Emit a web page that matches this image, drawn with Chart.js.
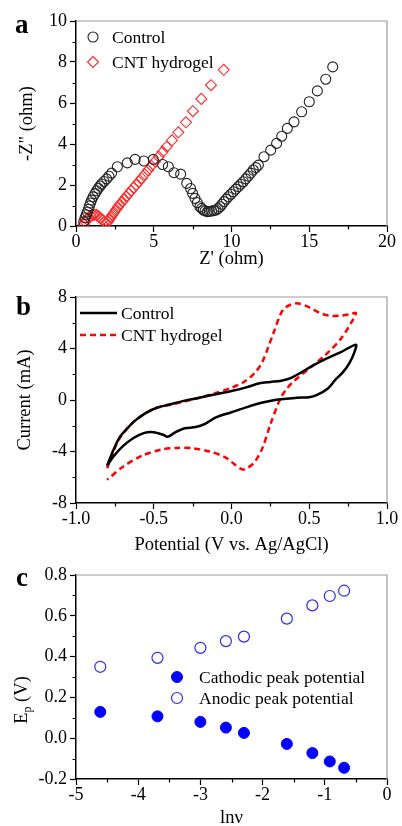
<!DOCTYPE html>
<html>
<head>
<meta charset="utf-8">
<script src="https://cdn.jsdelivr.net/npm/chart.js@4.4.1/dist/chart.umd.min.js"></script>
<style>
  body { margin: 0; background: #fff; }
  #wrap { position: relative; width: 402px; height: 826px; }
  canvas { position: absolute; left: 0; }
</style>
</head>
<body>
<div id="wrap">
  <canvas id="panelA" width="402" height="280" style="top:0"></canvas>
  <canvas id="panelB" width="402" height="280" style="top:280px"></canvas>
  <canvas id="panelC" width="402" height="266" style="top:560px"></canvas>
</div>
<script>
// ---- panel a: Nyquist plot ----
const eisControlX = [0.5, 0.58, 0.66, 0.73, 0.8, 0.86, 0.93, 1.0, 1.1, 1.22, 1.33, 1.44, 1.55, 1.65, 1.8, 1.97, 2.12, 2.29, 2.66, 3.3, 3.8, 4.37, 4.97, 5.57, 5.94, 6.3, 6.73, 7.12, 7.37, 7.5, 7.65, 7.8, 7.97, 8.08, 8.19, 8.3, 8.45, 8.58, 8.72, 8.86, 9.0, 9.13, 9.26, 9.39, 9.52, 9.66, 9.8, 9.96, 10.12, 10.28, 10.44, 10.6, 10.76, 10.92, 11.08, 11.24, 11.4, 11.57, 11.73, 12.09, 12.52, 12.9, 13.23, 13.59, 14.02, 14.51, 15.0, 15.52, 16.06, 16.51];
const eisControlY = [0.21, 0.4, 0.55, 0.68, 0.82, 0.98, 1.12, 1.26, 1.42, 1.58, 1.72, 1.84, 1.95, 2.05, 2.17, 2.3, 2.43, 2.58, 2.89, 3.08, 3.25, 3.17, 3.25, 3.0, 2.89, 2.6, 2.53, 2.08, 1.83, 1.59, 1.35, 1.14, 0.94, 0.86, 0.78, 0.74, 0.7, 0.71, 0.73, 0.75, 0.78, 0.85, 0.94, 1.06, 1.19, 1.31, 1.43, 1.55, 1.67, 1.8, 1.92, 2.04, 2.16, 2.3, 2.44, 2.58, 2.73, 2.85, 2.97, 3.38, 3.7, 4.03, 4.38, 4.76, 5.08, 5.57, 6.06, 6.59, 7.16, 7.76];
const eisCntX = [0.5, 0.6, 0.7, 0.82, 0.95, 1.08, 1.2, 1.33, 1.46, 1.59, 1.71, 1.83, 1.94, 2.04, 2.13, 2.23, 2.34, 2.45, 2.57, 2.69, 2.82, 2.96, 3.1, 3.24, 3.39, 3.54, 3.7, 3.87, 4.04, 4.22, 4.42, 4.63, 4.85, 5.08, 5.32, 5.57, 5.83, 6.17, 6.58, 7.07, 7.52, 8.06, 8.68, 9.5];
const eisCntY = [0.08, 0.2, 0.32, 0.42, 0.49, 0.53, 0.55, 0.53, 0.47, 0.38, 0.28, 0.2, 0.15, 0.2, 0.3, 0.42, 0.54, 0.66, 0.79, 0.92, 1.05, 1.18, 1.31, 1.44, 1.58, 1.72, 1.86, 2.01, 2.16, 2.33, 2.52, 2.72, 2.93, 3.15, 3.38, 3.62, 3.87, 4.18, 4.57, 5.06, 5.6, 6.2, 6.87, 7.62];
const eisXTicks = [0, 5, 10, 15, 20];
const eisXMinor = [2.5, 7.5, 12.5, 17.5];
const eisYTicks = [0, 2, 4, 6, 8, 10];
const eisYMinor = [1, 3, 5, 7, 9];

// ---- panel b: cyclic voltammetry ----
const cvControlE = [-0.8, -0.76, -0.72, -0.67, -0.62, -0.55, -0.48, -0.4, -0.3, -0.2, -0.1, 0, 0.1, 0.18, 0.25, 0.32, 0.38, 0.45, 0.52, 0.6, 0.7, 0.8,
  0.79, 0.76, 0.72, 0.67, 0.62, 0.55, 0.5, 0.42, 0.35, 0.28, 0.2, 0.1, 0, -0.1, -0.17, -0.23, -0.3, -0.36, -0.41, -0.44, -0.5, -0.56, -0.63, -0.7, -0.76, -0.8];
const cvControlI = [-5.1, -3.9, -2.9, -2.2, -1.6, -1.0, -0.6, -0.35, -0.05, 0.2, 0.45, 0.7, 1.0, 1.3, 1.4, 1.5, 1.7, 2.15, 2.65, 3.15, 3.7, 4.3,
  3.7, 2.9, 2.2, 1.6, 0.9, 0.4, 0.22, 0.18, 0.1, 0, -0.2, -0.55, -0.95, -1.35, -1.85, -2.1, -2.2, -2.5, -2.85, -2.7, -2.5, -2.55, -2.95, -3.6, -4.4, -5.1];
const cvCntE = [-0.8, -0.76, -0.72, -0.67, -0.62, -0.55, -0.48, -0.4, -0.3, -0.2, -0.1, 0, 0.08, 0.15, 0.2, 0.27, 0.33, 0.38, 0.43, 0.5, 0.57, 0.63, 0.7, 0.76, 0.8,
  0.77, 0.7, 0.6, 0.5, 0.4, 0.35, 0.31, 0.25, 0.2, 0.15, 0.1, 0.07, 0.02, -0.04, -0.14, -0.25, -0.35, -0.45, -0.57, -0.7, -0.8];
const cvCntI = [-5.3, -4.0, -3.0, -2.2, -1.6, -1.0, -0.6, -0.4, -0.1, 0.2, 0.55, 0.95, 1.4, 2.1, 3.0, 5.2, 7.0, 7.4, 7.5, 7.2, 6.75, 6.55, 6.55, 6.65, 6.75,
  6.0, 4.7, 3.45, 2.45, 1.45, 0.8, 0, -1.9, -3.7, -4.8, -5.3, -5.4, -5.0, -4.45, -4.0, -3.75, -3.72, -3.85, -4.3, -5.2, -6.2];
const cvXTicks = [-1, -0.5, 0, 0.5, 1];
const cvXMinor = [-0.75, -0.25, 0.25, 0.75];
const cvYTicks = [-8, -4, 0, 4, 8];
const cvYMinor = [-6, -2, 2, 6];

// ---- panel c: peak potential vs ln(scan rate) ----
const lnRate = [-4.61, -3.69, -3.0, -2.59, -2.3, -1.61, -1.2, -0.92, -0.69];
const cathodicEp = [0.129, 0.107, 0.08, 0.052, 0.026, -0.028, -0.073, -0.114, -0.145];
const anodicEp = [0.35, 0.394, 0.443, 0.476, 0.498, 0.586, 0.651, 0.697, 0.723];
const epXTicks = [-5, -4, -3, -2, -1, 0];
const epXMinor = [-4.5, -3.5, -2.5, -1.5, -0.5];
const epYTicks = [-0.2, 0, 0.2, 0.4, 0.6, 0.8];
const epYMinor = [-0.1, 0.1, 0.3, 0.5, 0.7];

const SERIF = "'Liberation Serif', 'Times New Roman', serif";
Chart.defaults.font.family = SERIF;
Chart.defaults.color = '#000';

function pts(xs, ys) {
  return xs.map((x, i) => ({ x: x, y: ys[i] }));
}

// gray top/right frame, minor ticks, panel letter, in-plot legend
const decorPlugin = {
  id: 'decor',
  afterDraw(chart, args, o) {
    const ctx = chart.ctx;
    const a = chart.chartArea;
    const sx = chart.scales.x, sy = chart.scales.y;
    ctx.save();
    ctx.strokeStyle = '#9c9c9c';
    ctx.lineWidth = 1.2;
    ctx.beginPath();
    ctx.moveTo(a.left, a.top);
    ctx.lineTo(a.right, a.top);
    ctx.lineTo(a.right, a.bottom);
    ctx.stroke();

    ctx.strokeStyle = '#000';
    ctx.lineWidth = 1.2;
    ctx.beginPath();
    o.xMinor.forEach(v => {
      const p = Math.round(sx.getPixelForValue(v)) + 0.5;
      ctx.moveTo(p, a.bottom);
      ctx.lineTo(p, a.bottom + 3.5);
    });
    o.yMinor.forEach(v => {
      const p = Math.round(sy.getPixelForValue(v)) + 0.5;
      ctx.moveTo(a.left, p);
      ctx.lineTo(a.left - 3.5, p);
    });
    ctx.stroke();

    ctx.fillStyle = '#000';
    ctx.font = 'bold 27px ' + SERIF;
    ctx.textBaseline = 'alphabetic';
    ctx.fillText(o.letter, o.letterX, o.letterY);

    // legend
    ctx.font = '17.5px ' + SERIF;
    ctx.textBaseline = 'middle';
    chart.data.datasets.forEach((ds, i) => {
      const y = o.legY + i * o.legGap;
      if (o.legKind === 'line') {
        ctx.strokeStyle = ds.borderColor;
        ctx.lineWidth = ds.borderWidth;
        ctx.setLineDash(ds.borderDash || []);
        ctx.beginPath();
        ctx.moveTo(o.legX, y);
        ctx.lineTo(o.legX + 37, y);
        ctx.stroke();
        ctx.setLineDash([]);
      } else {
        const r = ds.pointRadius;
        ctx.strokeStyle = ds.pointBorderColor;
        ctx.fillStyle = ds.pointBackgroundColor;
        ctx.lineWidth = ds.pointBorderWidth;
        ctx.beginPath();
        if (ds.pointStyle === 'rectRot') {
          ctx.moveTo(o.legX, y - r);
          ctx.lineTo(o.legX + r, y);
          ctx.lineTo(o.legX, y + r);
          ctx.lineTo(o.legX - r, y);
          ctx.closePath();
        } else {
          ctx.arc(o.legX, y, r, 0, Math.PI * 2);
        }
        ctx.fill();
        ctx.stroke();
      }
      ctx.fillStyle = '#000';
      ctx.fillText(ds.label, o.legTextX, y + 1);
    });

    // subscripted y title (panel c)
    if (o.epTitle) {
      ctx.translate(o.epTitle.x, o.epTitle.y);
      ctx.rotate(-Math.PI / 2);
      ctx.textBaseline = 'alphabetic';
      ctx.textAlign = 'left';
      ctx.font = '18.5px ' + SERIF;
      const w1 = ctx.measureText('E').width;
      ctx.font = '12px ' + SERIF;
      const w2 = ctx.measureText('p').width;
      ctx.font = '18.5px ' + SERIF;
      const w3 = ctx.measureText(' (V)').width;
      let x0 = -(w1 + w2 + w3) / 2;
      ctx.fillText('E', x0, 0);
      ctx.font = '12px ' + SERIF;
      ctx.fillText('p', x0 + w1, 4);
      ctx.font = '18.5px ' + SERIF;
      ctx.fillText(' (V)', x0 + w1 + w2, 0);
    }
    ctx.restore();
  }
};

function axis(cfg) {
  return {
    type: 'linear',
    min: cfg.min,
    max: cfg.max,
    afterBuildTicks: s => { s.ticks = cfg.ticks.map(v => ({ value: v })); },
    afterFit: s => {
      if (cfg.width) s.width = cfg.width;
      if (cfg.height) s.height = cfg.height;
    },
    border: { display: true, color: '#000', width: 1.5 },
    grid: { display: true, drawOnChartArea: false, drawTicks: true, tickLength: 6, tickColor: '#000', tickWidth: 1.2 },
    ticks: {
      autoSkip: false, maxRotation: 0, padding: cfg.height ? -1 : 3,
      font: { size: 18 }, color: '#000',
      callback: cfg.fmt
    },
    title: cfg.title ? { display: true, text: cfg.title, font: { size: 18.5 }, color: '#000', padding: cfg.titlePad } : { display: false }
  };
}

// panel a
new Chart(document.getElementById('panelA'), {
  type: 'scatter',
  data: {
    datasets: [{
      label: 'Control',
      data: pts(eisControlX, eisControlY),
      pointStyle: 'circle', pointRadius: 5,
      pointBackgroundColor: 'rgba(0,0,0,0)', pointBorderColor: '#222', pointBorderWidth: 1.1
    }, {
      label: 'CNT hydrogel',
      data: pts(eisCntX, eisCntY),
      pointStyle: 'rectRot', pointRadius: 5.5,
      pointBackgroundColor: 'rgba(0,0,0,0)', pointBorderColor: '#ff2a2a', pointBorderWidth: 1.1
    }]
  },
  options: {
    responsive: false, animation: false, events: [],
    layout: { padding: { left: 0, right: 15, top: 21, bottom: 0 } },
    plugins: {
      legend: { display: false }, tooltip: { enabled: false },
      decor: { xMinor: eisXMinor, yMinor: eisYMinor, letter: 'a', letterX: 15, letterY: 33,
        legKind: 'point', legX: 93, legY: 37, legGap: 25, legTextX: 112 }
    },
    scales: {
      x: axis({ min: 0, max: 20, ticks: eisXTicks, height: 54, fmt: v => String(v),
        title: "Z' (ohm)", titlePad: { top: 0, bottom: 10 } }),
      y: axis({ min: 0, max: 10, ticks: eisYTicks, width: 76, fmt: v => String(v),
        title: '-Z" (ohm)', titlePad: { top: 16, bottom: 0 } })
    }
  },
  plugins: [decorPlugin]
});

// panel b
new Chart(document.getElementById('panelB'), {
  type: 'scatter',
  data: {
    datasets: [{
      label: 'Control',
      data: pts(cvControlE, cvControlI),
      showLine: true, pointRadius: 0, borderColor: '#000', borderWidth: 2.5, tension: 0.3
    }, {
      label: 'CNT hydrogel',
      data: pts(cvCntE, cvCntI),
      showLine: true, pointRadius: 0, borderColor: '#ff0000', borderWidth: 2.5, tension: 0.3,
      borderDash: [6, 4]
    }]
  },
  options: {
    responsive: false, animation: false, events: [],
    layout: { padding: { left: 0, right: 15, top: 17, bottom: 0 } },
    plugins: {
      legend: { display: false }, tooltip: { enabled: false },
      decor: { xMinor: cvXMinor, yMinor: cvYMinor, letter: 'b', letterX: 16, letterY: 35,
        legKind: 'line', legX: 80, legY: 33, legGap: 22, legTextX: 121 }
    },
    scales: {
      x: axis({ min: -1, max: 1, ticks: cvXTicks, height: 57, fmt: v => v.toFixed(1),
        title: 'Potential (V vs. Ag/AgCl)', titlePad: { top: 0, bottom: 4 } }),
      y: axis({ min: -8, max: 8, ticks: cvYTicks, width: 76, fmt: v => String(v),
        title: 'Current (mA)', titlePad: { top: 14, bottom: 0 } })
    }
  },
  plugins: [decorPlugin]
});

// panel c
new Chart(document.getElementById('panelC'), {
  type: 'scatter',
  data: {
    datasets: [{
      label: 'Cathodic peak potential',
      data: pts(lnRate, cathodicEp),
      pointStyle: 'circle', pointRadius: 5.5,
      pointBackgroundColor: '#0000ff', pointBorderColor: '#0000ff', pointBorderWidth: 1
    }, {
      label: 'Anodic peak potential',
      data: pts(lnRate, anodicEp),
      pointStyle: 'circle', pointRadius: 5.5,
      pointBackgroundColor: 'rgba(0,0,0,0)', pointBorderColor: '#2a2aff', pointBorderWidth: 1.2
    }]
  },
  options: {
    responsive: false, animation: false, events: [],
    layout: { padding: { left: 0, right: 15, top: 15, bottom: 0 } },
    plugins: {
      legend: { display: false }, tooltip: { enabled: false },
      decor: { xMinor: epXMinor, yMinor: epYMinor, letter: 'c', letterX: 16, letterY: 26,
        legKind: 'point', legX: 177, legY: 117, legGap: 21, legTextX: 199,
        epTitle: { x: 27, y: 140 } }
    },
    scales: {
      x: axis({ min: -5, max: 0, ticks: epXTicks, height: 47, fmt: v => String(v),
        title: 'lnν', titlePad: { top: 0, bottom: -3 } }),
      y: axis({ min: -0.2, max: 0.8, ticks: epYTicks, width: 76, fmt: v => v.toFixed(1) })
    }
  },
  plugins: [decorPlugin]
});
</script>
</body>
</html>
